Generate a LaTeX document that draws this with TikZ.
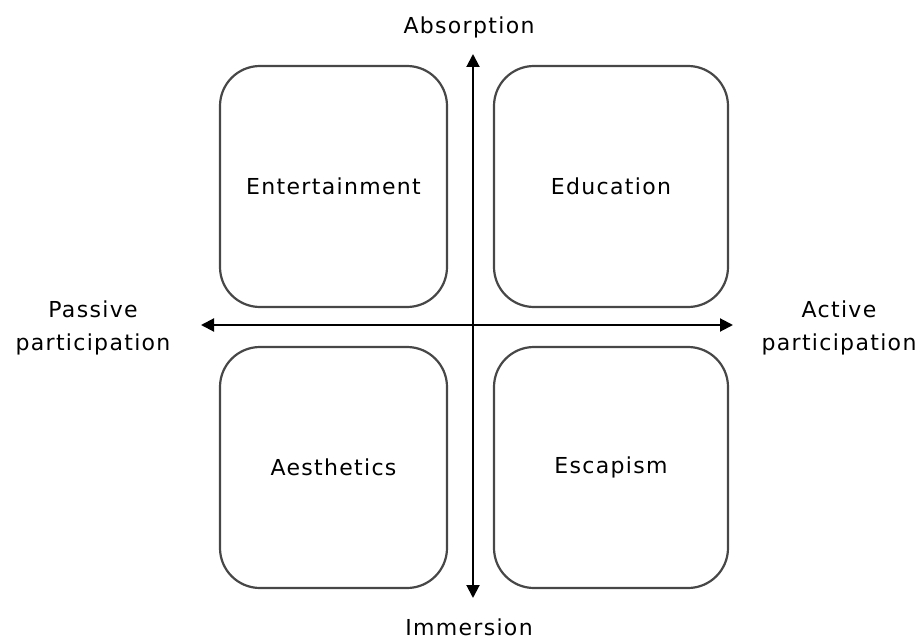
\documentclass[tikz,border=0pt]{standalone}
\usepackage{fontspec}
\setmainfont[LetterSpace=6]{DejaVu Sans}
\usetikzlibrary{arrows.meta}
\begin{document}
\begin{tikzpicture}[x=1pt,y=-1pt,
  quad/.style={draw=black!72, line width=2.2pt, rounded corners=40pt, minimum height=241pt, inner sep=0pt, font=\fontsize{22}{26}\selectfont},
  axis/.style={line width=2pt, -{Triangle[length=13pt,width=13pt]}},
  lbl/.style={font=\fontsize{22}{33}\selectfont, align=center, inner sep=0pt}]
\useasboundingbox (0,0) rectangle (924,639);
\node[quad, minimum width=227pt] (tl) at (333.5,186.5) {Entertainment};
\node[quad, minimum width=234pt] (tr) at (611,186.5) {Education};
\node[quad, minimum width=227pt] (bl) at (333.5,467.5) {Aesthetics};
\node[quad, minimum width=234pt] (br) at (611,467.5) {Escapism};
\coordinate (c) at (473,325);
\coordinate (top) at (473,54);
\coordinate (bot) at (473,598);
\coordinate (lft) at (201,325);
\coordinate (rgt) at (733,325);
\draw[axis] (c) -- (top);
\draw[axis] (c) -- (bot);
\draw[axis] (c) -- (lft);
\draw[axis] (c) -- (rgt);
\node[lbl] (abs) at (469,27) {Absorption};
\node[lbl] (imm) at (469,627) {Immersion};
\node[lbl] (pas) at (93,328) {Passive\\participation};
\node[lbl] (act) at (839,328) {Active\\participation};
\end{tikzpicture}
\end{document}
